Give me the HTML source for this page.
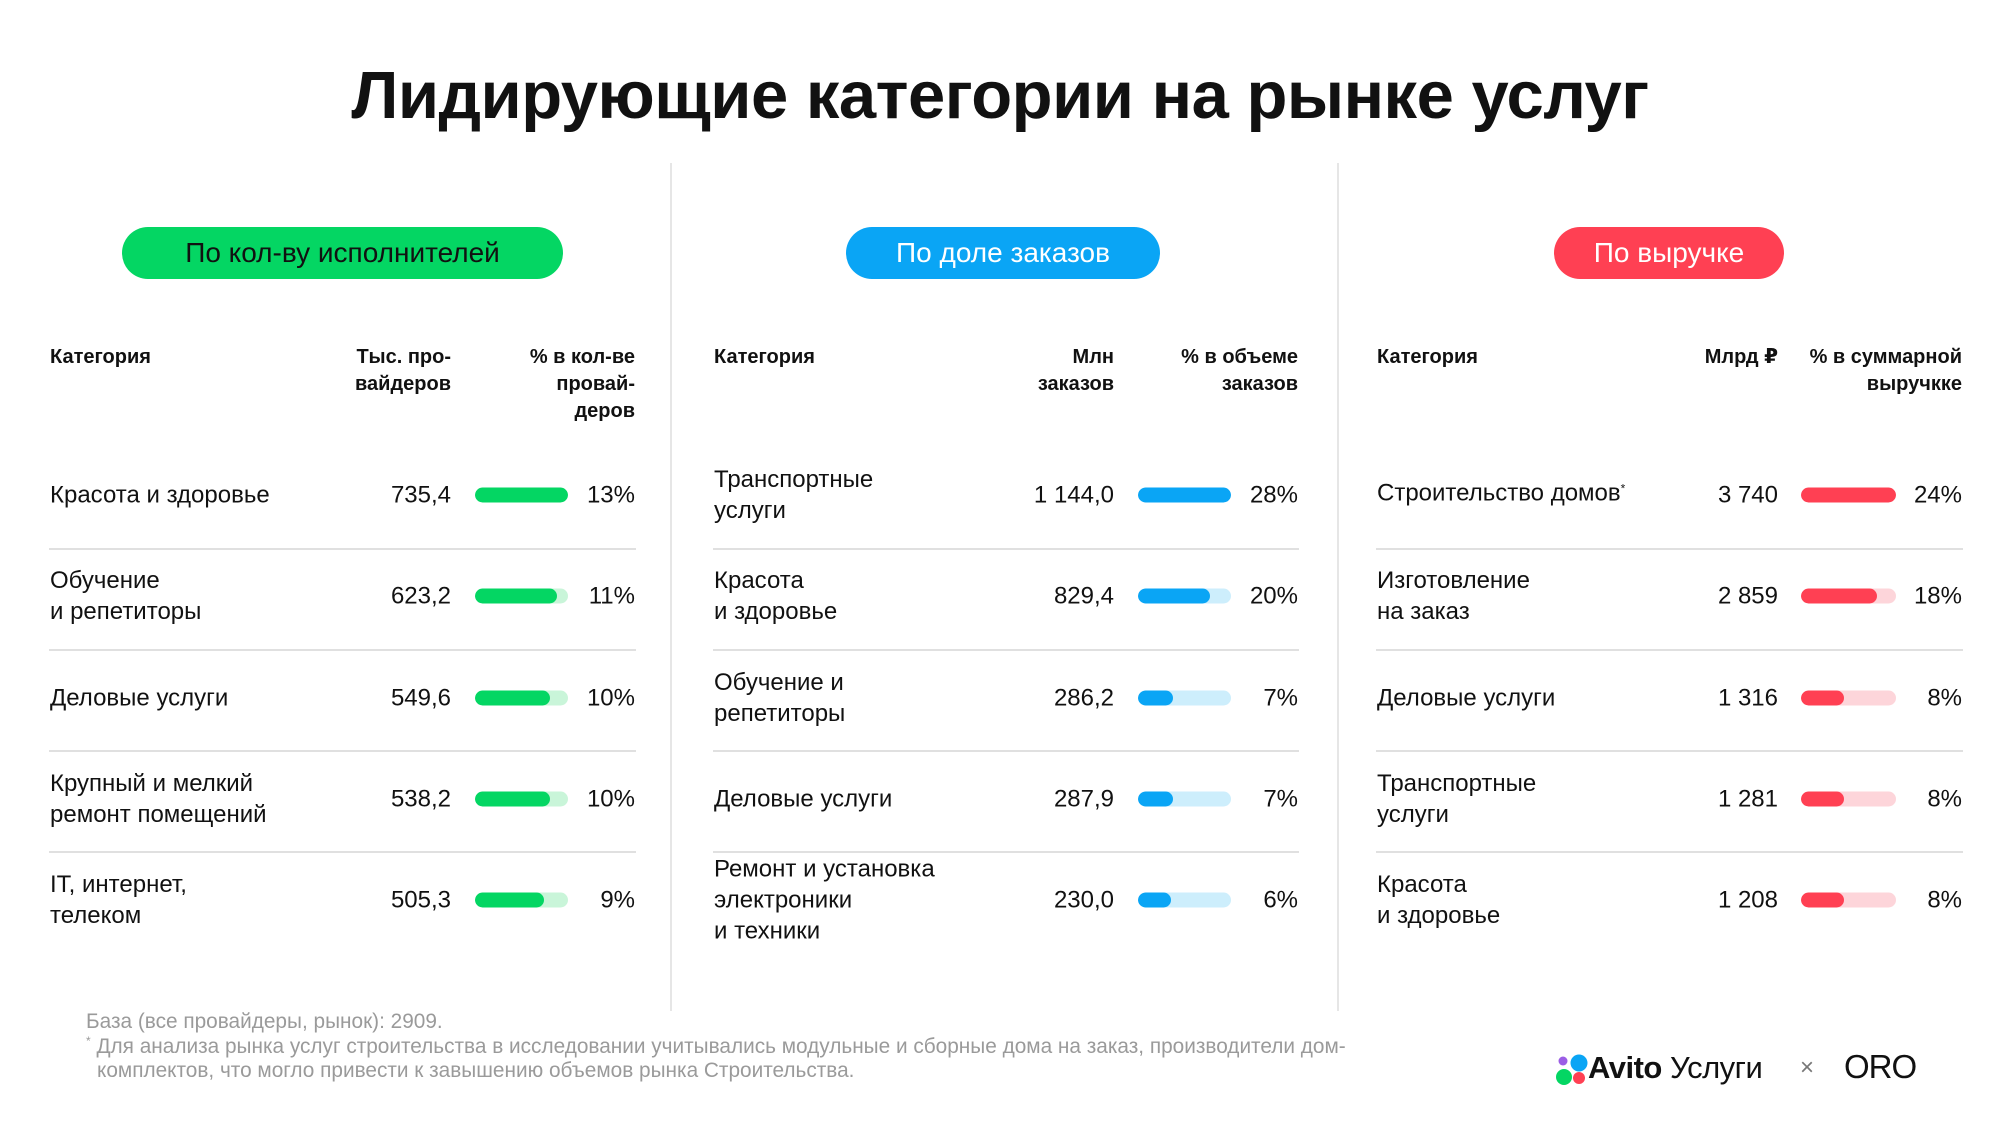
<!DOCTYPE html>
<html><head><meta charset="utf-8"><style>
body{margin:0;width:2000px;height:1125px;background:#fff;font-family:"Liberation Sans","DejaVu Sans",sans-serif;color:#111;position:relative;overflow:hidden}
.a{position:absolute;white-space:nowrap}
.t{left:0;width:2000px;text-align:center;top:57px;font-size:67px;font-weight:bold;letter-spacing:-0.5px}
.pill{position:absolute;top:227px;height:52px;border-radius:26px;text-align:center;line-height:52px;font-size:28px}
.vl{position:absolute;top:163px;width:2px;height:848px;background:#e6e6e6}
.h{position:absolute;top:344px;font-size:20px;font-weight:bold;line-height:27px}
.r{text-align:right}
.c{position:absolute;font-size:24px;line-height:31px;transform:translateY(-50%)}
.hl{position:absolute;height:2px;background:#e0e0e0}
.bar{position:absolute;height:15px;border-radius:8px;transform:translateY(-50%);overflow:hidden}
.bar i{display:block;height:100%;border-radius:8px}
.f{position:absolute;left:86px;font-size:20.8px;color:#9a9a9a;line-height:24px;height:24px;white-space:nowrap}
.sp{font-size:12px;position:relative;top:-8px;vertical-align:baseline}
</style></head><body>
<div class="a t">Лидирующие категории на рынке услуг</div>
<div class="pill" style="left:122px;width:441px;background:#04d663;color:#111">По кол-ву исполнителей</div>
<div class="pill" style="left:846px;width:314px;background:#0aa5f5;color:#fff">По доле заказов</div>
<div class="pill" style="left:1554px;width:230px;background:#ff4053;color:#fff">По выручке</div>
<div class="vl" style="left:670px"></div><div class="vl" style="left:1337px"></div>

<div id="cols"></div>
<script>
const cols=[
{cx:50,nr:451,bx:475,bw:93,pr:635,col:'#04d663',lt:'#c9f5d9',
 h:['Категория','Тыс. про-<br>вайдеров','% в кол-ве<br>провай-<br>деров'],
 rows:[['Красота и здоровье','735,4',1,'13%'],['Обучение<br>и репетиторы','623,2',.88,'11%'],['Деловые услуги','549,6',.81,'10%'],['Крупный и мелкий<br>ремонт помещений','538,2',.81,'10%'],['IT, интернет,<br>телеком','505,3',.74,'9%']]},
{cx:714,nr:1114,bx:1138,bw:93,pr:1298,col:'#0aa5f5',lt:'#cdeefc',
 h:['Категория','Млн<br>заказов','% в объеме<br>заказов'],
 rows:[['Транспортные<br>услуги','1 144,0',1,'28%'],['Красота<br>и здоровье','829,4',.77,'20%'],['Обучение и<br>репетиторы','286,2',.38,'7%'],['Деловые услуги','287,9',.38,'7%'],['Ремонт и установка<br>электроники<br>и техники','230,0',.35,'6%']]},
{cx:1377,nr:1778,bx:1801,bw:95,pr:1962,col:'#ff4053',lt:'#fdd5da',
 h:['Категория','Млрд ₽','% в суммарной<br>выручкке'],
 rows:[['Строительство домов<span class="sp">*</span>','3 740',1,'24%'],['Изготовление<br>на заказ','2 859',.8,'18%'],['Деловые услуги','1 316',.45,'8%'],['Транспортные<br>услуги','1 281',.45,'8%'],['Красота<br>и здоровье','1 208',.45,'8%']]}];
const ys=[495,596,698,799,900],ls=[548,649,750,851];let s='';
for(const c of cols){
 s+=`<div class="h" style="left:${c.cx}px">${c.h[0]}</div>`;
 s+=`<div class="h r" style="right:${2000-c.nr}px">${c.h[1]}</div>`;
 s+=`<div class="h r" style="right:${2000-c.pr}px">${c.h[2]}</div>`;
 c.rows.forEach((r,i)=>{const y=ys[i];
  s+=`<div class="c" style="left:${c.cx}px;top:${y}px;white-space:nowrap">${r[0]}</div>`;
  s+=`<div class="c r" style="right:${2000-c.nr}px;top:${y}px">${r[1]}</div>`;
  s+=`<div class="bar" style="left:${c.bx}px;width:${c.bw}px;top:${y}px;background:${c.lt}"><i style="width:${r[2]*100}%;background:${c.col}"></i></div>`;
  s+=`<div class="c r" style="right:${2000-c.pr}px;top:${y}px">${r[3]}</div>`;});
 ls.forEach(y=>{s+=`<div class="hl" style="left:${c.cx-1}px;width:${c.pr-c.cx+2}px;top:${y}px"></div>`});
}
document.getElementById('cols').innerHTML=s;
</script>
<div class="f" style="top:1010px">База (все провайдеры, рынок): 2909.</div>
<div class="f" style="top:1035px"><span class="sp">*</span> Для анализа рынка услуг строительства в исследовании учитывались модульные и сборные дома на заказ, производители дом-</div>
<div class="f" style="top:1059px;left:97px">комплектов, что могло привести к завышению объемов рынка Строительства.</div>
<svg class="a" style="left:1555px;top:1052px" width="34" height="34"><circle cx="9" cy="25" r="8" fill="#04d663"/><circle cx="24" cy="11" r="8.5" fill="#0aa5f5"/><circle cx="24" cy="26" r="6" fill="#ff4053"/><circle cx="8" cy="9" r="4.5" fill="#9b5de5"/></svg>
<div class="a" style="left:1588px;top:1050px;font-size:31px;font-weight:bold;letter-spacing:-0.5px">Avito <span style="font-weight:normal">Услуги</span></div>
<div class="a" style="left:1800px;top:1054px;font-size:24px;color:#777">×</div>
<div class="a" style="left:1844px;top:1048px;font-size:33px;font-weight:300;letter-spacing:-1px;color:#111">ORO</div>
</body></html>
